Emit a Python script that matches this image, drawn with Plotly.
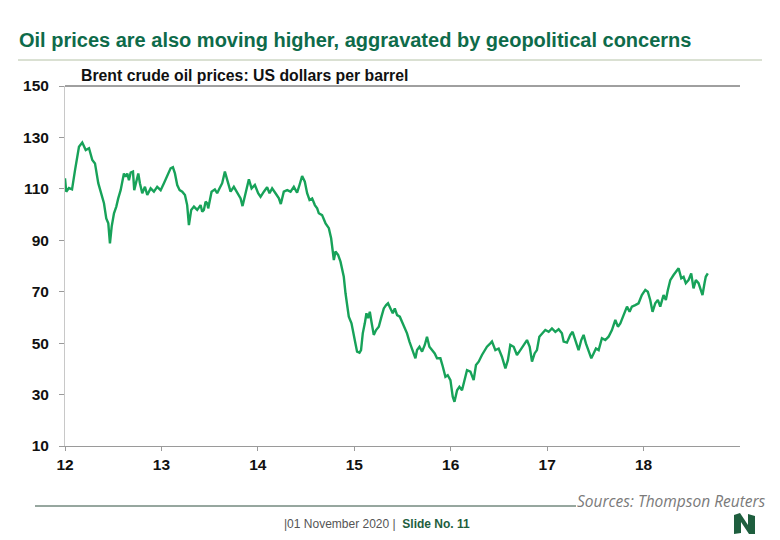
import plotly.graph_objects as go

# Decimal years (12 = 2012) and Brent price, USD per barrel
years = [
    12.000, 12.013, 12.041, 12.073, 12.104, 12.145, 12.179, 12.215, 12.249, 12.266,
    12.283, 12.311, 12.324, 12.345, 12.370, 12.404, 12.428, 12.449, 12.466, 12.484,
    12.508, 12.532, 12.552, 12.577, 12.611, 12.629, 12.646, 12.663, 12.681, 12.705,
    12.718, 12.739, 12.760, 12.777, 12.801, 12.829, 12.853, 12.888, 12.922, 12.956,
    12.992, 13.026, 13.060, 13.095, 13.119, 13.140, 13.164, 13.189, 13.216, 13.244,
    13.267, 13.285, 13.309, 13.337, 13.371, 13.406, 13.423, 13.440, 13.458, 13.475,
    13.485, 13.520, 13.554, 13.578, 13.603, 13.630, 13.658, 13.682, 13.717, 13.751,
    13.786, 13.821, 13.841, 13.873, 13.907, 13.935, 13.969, 14.003, 14.028, 14.062,
    14.096, 14.121, 14.148, 14.183, 14.218, 14.238, 14.269, 14.304, 14.339, 14.373,
    14.407, 14.432, 14.459, 14.487, 14.511, 14.536, 14.563, 14.591, 14.615, 14.632,
    14.666, 14.702, 14.736, 14.760, 14.780, 14.788, 14.805, 14.832, 14.857, 14.874,
    14.891, 14.909, 14.925, 14.943, 14.971, 14.995, 15.012, 15.029, 15.054, 15.070,
    15.088, 15.109, 15.126, 15.143, 15.161, 15.178, 15.202, 15.226, 15.254, 15.282,
    15.306, 15.330, 15.350, 15.375, 15.399, 15.420, 15.444, 15.472, 15.495, 15.523,
    15.547, 15.572, 15.593, 15.617, 15.634, 15.651, 15.676, 15.703, 15.731, 15.754,
    15.779, 15.806, 15.834, 15.858, 15.893, 15.917, 15.945, 15.969, 15.997, 16.021,
    16.039, 16.066, 16.090, 16.117, 16.145, 16.169, 16.204, 16.238, 16.262, 16.290,
    16.324, 16.352, 16.376, 16.411, 16.428, 16.463, 16.497, 16.531, 16.567, 16.593,
    16.618, 16.653, 16.687, 16.722, 16.756, 16.791, 16.819, 16.843, 16.870, 16.894,
    16.919, 16.946, 16.981, 17.016, 17.050, 17.085, 17.119, 17.153, 17.171, 17.205,
    17.240, 17.264, 17.285, 17.309, 17.326, 17.354, 17.378, 17.402, 17.430, 17.458,
    17.482, 17.506, 17.534, 17.568, 17.603, 17.637, 17.672, 17.707, 17.734, 17.759,
    17.793, 17.828, 17.855, 17.879, 17.914, 17.948, 17.982, 18.018, 18.044, 18.069,
    18.093, 18.121, 18.148, 18.173, 18.207, 18.231, 18.252, 18.277, 18.311, 18.345,
    18.363, 18.391, 18.415, 18.438, 18.466, 18.494, 18.518, 18.542, 18.570, 18.593,
    18.611, 18.632, 18.645, 18.666,
]
brent = [
    114.1, 108.9, 110.3, 109.8, 117.3, 126.4, 128.0, 125.1, 125.8, 123.8,
    121.2, 119.9, 116.7, 112.2, 108.9, 104.4, 98.5, 96.6, 88.8, 95.3,
    100.5, 103.1, 106.3, 109.5, 116.0, 114.7, 116.0, 113.4, 116.3, 116.7,
    109.5, 113.4, 116.0, 112.2, 108.3, 110.8, 107.6, 110.2, 108.9, 110.8,
    109.5, 112.2, 115.4, 118.0, 118.4, 116.0, 111.5, 109.5, 108.9, 107.6,
    103.7, 95.9, 101.8, 103.1, 101.8, 103.7, 101.1, 101.8, 105.0, 104.4,
    102.4, 108.9, 109.8, 108.3, 110.2, 112.2, 116.7, 113.4, 108.9, 110.8,
    108.3, 106.3, 103.3, 108.9, 113.7, 110.2, 111.5, 108.3, 106.9, 108.9,
    110.6, 108.3, 110.2, 108.3, 106.3, 104.1, 108.9, 109.5, 108.9, 110.8,
    108.5, 111.5, 115.0, 112.8, 108.3, 105.7, 106.3, 103.7, 102.4, 100.5,
    99.8, 96.6, 94.7, 90.8, 85.6, 82.3, 85.6, 84.3, 81.7, 78.4,
    75.8, 69.4, 65.5, 60.3, 57.7, 53.8, 49.9, 46.7, 46.3, 47.3,
    53.8, 57.7, 61.6, 59.7, 62.2, 58.3, 53.2, 55.1, 56.4, 60.3,
    63.5, 64.8, 65.5, 63.5, 61.6, 63.5, 60.9, 60.3, 58.3, 56.4,
    53.8, 50.6, 48.6, 46.0, 44.1, 47.3, 48.6, 46.7, 49.3, 52.5,
    48.6, 47.3, 46.0, 44.1, 44.1, 41.0, 36.9, 37.5, 35.6, 29.2,
    27.2, 31.7, 33.0, 31.7, 35.6, 39.5, 38.9, 35.6, 41.5, 42.8,
    45.4, 47.3, 48.6, 49.9, 50.6, 47.3, 47.9, 44.7, 40.2, 43.4,
    49.3, 48.6, 45.4, 47.3, 49.3, 51.2, 48.6, 42.8, 46.0, 47.3,
    52.5, 53.8, 55.1, 54.4, 55.7, 54.4, 55.4, 53.8, 50.6, 50.2,
    53.2, 54.4, 51.9, 49.9, 47.3, 51.2, 53.2, 49.9, 47.3, 44.1,
    46.0, 47.9, 47.3, 51.9, 51.2, 52.5, 55.1, 59.0, 56.4, 57.7,
    60.9, 64.2, 62.2, 64.2, 64.8, 65.5, 68.7, 70.7, 70.0, 66.8,
    62.2, 65.5, 66.8, 64.2, 68.7, 66.8, 70.7, 74.5, 76.5, 78.4,
    79.1, 75.2, 75.8, 73.3, 74.5, 77.1, 71.3, 74.5, 73.3, 70.7,
    68.7, 73.3, 75.8, 77.1,
]

x_ticks = [12, 13, 14, 15, 16, 17, 18]
x_tick_labels = ["12", "13", "14", "15", "16", "17", "18"]
y_ticks = [10, 30, 50, 70, 90, 110, 130, 150]

title_text = "Oil prices are also moving higher, aggravated by geopolitical concerns"
subtitle_text = "Brent crude oil prices: US dollars per barrel"
source_text = "Sources: Thompson Reuters"

LINE_GREEN = "#17A259"
TITLE_GREEN = "#0E6B4A"
LOGO_GREEN = "#1E5E3E"
FONT = "Liberation Sans, Arial"

fig = go.Figure()
fig.add_trace(go.Scatter(
    x=years, y=brent, mode="lines",
    line=dict(color=LINE_GREEN, width=2.4),
    hoverinfo="skip", showlegend=False,
))

# page body has an 8px default margin; lay out in page pixels and offset
OFF = 8
W, H = 780 - OFF, 540 - OFF
plot_l, plot_r, plot_t, plot_b = 65, 740, 86, 446
L, R, T, B = plot_l - OFF, W - (plot_r - OFF), plot_t - OFF, H - (plot_b - OFF)
pw, ph = W - L - R, H - T - B

def px(xp):
    return (xp - OFF - L) / pw

def py(yp):
    return (H - B - (yp - OFF)) / ph

shapes = [
    dict(type="line", xref="paper", yref="paper", x0=0, x1=1, y0=1, y1=1,
         line=dict(color="#404040", width=1)),
    dict(type="line", xref="paper", yref="paper", x0=px(18), x1=px(762),
         y0=py(60), y1=py(60), line=dict(color="#B5C2A6", width=1)),
    dict(type="line", xref="paper", yref="paper", x0=px(35), x1=px(576),
         y0=py(506), y1=py(506), line=dict(color="#2F4F3F", width=1)),
]

lx0, lx1, ly0, ly1 = 734, 755, 513, 534
def P(a, b):
    return f"{px(a):.5f},{py(b):.5f}"
logo_path = ("M " + P(lx0, ly1) + " L " + P(lx0, ly0 + 2) + " L " + P(lx0 + 6, ly0)
             + " L " + P(lx1 - 7, ly1 - 9) + " L " + P(lx1 - 7, ly0 + 1) + " L " + P(lx1, ly0 + 3)
             + " L " + P(lx1, ly1) + " L " + P(lx1 - 6, ly1) + " L " + P(lx0 + 7, ly0 + 9)
             + " L " + P(lx0 + 7, ly1 - 1) + " Z")
shapes.append(dict(type="path", xref="paper", yref="paper", path=logo_path,
                   fillcolor=LOGO_GREEN, line=dict(width=0)))

annotations = [
    dict(text="<b>" + title_text + "</b>", xref="paper", yref="paper",
         x=px(17), y=py(40), xanchor="left", yanchor="middle", showarrow=False,
         font=dict(family=FONT, size=20, color=TITLE_GREEN)),
    dict(text="<b>" + subtitle_text + "</b>", xref="paper", yref="paper",
         x=px(79), y=py(75), xanchor="left", yanchor="middle", showarrow=False,
         font=dict(family=FONT, size=15.8, color="#111111")),
    dict(text="<i>" + source_text + "</i>", xref="paper", yref="paper",
         x=px(768), y=py(501), xanchor="right", yanchor="middle", showarrow=False,
         font=dict(family="Open Sans", size=15.5, color="#7A7A7A")),
    dict(text="|01 November 2020 |  <b><span style='color:#1E5E3E'>Slide No. 11</span></b>",
         xref="paper", yref="paper", x=px(377), y=py(524), xanchor="center",
         yanchor="middle", showarrow=False,
         font=dict(family=FONT, size=12, color="#555555")),
]

fig.update_layout(
    width=W, height=H,
    margin=dict(l=L, r=R, t=T, b=B),
    paper_bgcolor="white", plot_bgcolor="white",
    shapes=shapes, annotations=annotations,
    showlegend=False,
    font=dict(family=FONT, color="#111111"),
    xaxis=dict(
        range=[12, 19], tickvals=x_ticks, ticktext=x_tick_labels,
        showgrid=False, zeroline=False,
        showline=True, linecolor="#9A9A9A", linewidth=1,
        ticks="outside", ticklen=4, tickcolor="#9A9A9A",
        tickfont=dict(size=15.5, color="#111111", family=FONT, weight="bold"),
    ),
    yaxis=dict(
        range=[10, 150], tickvals=y_ticks,
        showgrid=False, zeroline=False,
        showline=True, linecolor="#C8C8C8", linewidth=1,
        ticks="outside", ticklen=5, tickcolor="#9A9A9A",
        ticklabelstandoff=7,
        tickfont=dict(size=15.5, color="#111111", family=FONT, weight="bold"),
    ),
)

fig.write_html("out.html")
